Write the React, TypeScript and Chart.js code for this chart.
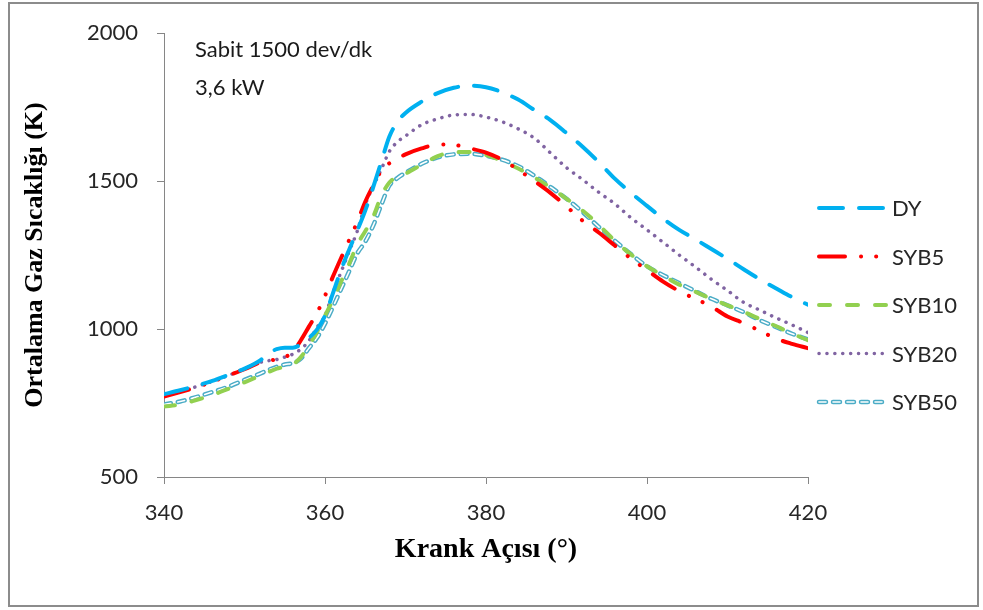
import React, { useEffect, useRef } from 'react';
import { Chart, registerables } from 'chart.js';

Chart.register(...registerables);

// Crank angle (degrees)
const angles = [340, 342, 344, 346, 348, 350, 352, 353, 354, 355, 356, 357, 358, 359, 360, 361, 362, 363, 364, 365, 366, 367, 368, 369, 370, 372, 374, 376, 378, 380, 382, 384, 386, 388, 390, 392, 394, 396, 398, 400, 402, 404, 406, 408, 410, 412, 414, 416, 418, 420];

// Mean gas temperature (K)
const dyValues = [780, 793, 808, 825, 845, 866, 895, 918, 932, 937, 937, 948, 970, 998, 1045, 1122, 1200, 1268, 1332, 1400, 1480, 1565, 1650, 1700, 1730, 1768, 1797, 1815, 1822, 1817, 1800, 1775, 1740, 1706, 1662, 1616, 1564, 1508, 1460, 1416, 1373, 1335, 1303, 1270, 1237, 1202, 1168, 1138, 1108, 1082];
const syb5Values = [772, 787, 803, 822, 843, 864, 888, 893, 897, 905, 922, 962, 1008, 1054, 1112, 1178, 1240, 1300, 1361, 1430, 1485, 1535, 1560, 1575, 1590, 1610, 1623, 1622, 1610, 1596, 1572, 1538, 1500, 1460, 1414, 1366, 1326, 1282, 1238, 1199, 1160, 1128, 1102, 1076, 1042, 1020, 994, 968, 950, 935];
const syb10Values = [738, 745, 760, 777, 798, 820, 843, 855, 866, 872, 880, 905, 945, 990, 1045, 1100, 1160, 1220, 1285, 1330, 1380, 1450, 1495, 1515, 1525, 1555, 1584, 1597, 1598, 1588, 1568, 1542, 1512, 1478, 1440, 1400, 1352, 1298, 1252, 1212, 1180, 1150, 1126, 1102, 1080, 1058, 1034, 1010, 985, 962];
const syb20Values = [780, 790, 805, 823, 843, 865, 888, 893, 897, 905, 915, 932, 960, 1005, 1045, 1125, 1193, 1262, 1330, 1420, 1483, 1540, 1600, 1632, 1652, 1690, 1710, 1723, 1725, 1716, 1700, 1676, 1645, 1595, 1545, 1505, 1462, 1423, 1376, 1335, 1293, 1250, 1210, 1168, 1130, 1090, 1064, 1038, 1014, 988];
const syb50Values = [745, 755, 770, 787, 805, 828, 850, 862, 872, 880, 885, 900, 935, 970, 1018, 1075, 1135, 1195, 1255, 1295, 1350, 1420, 1485, 1510, 1528, 1558, 1580, 1590, 1592, 1585, 1572, 1550, 1518, 1480, 1440, 1395, 1345, 1298, 1253, 1212, 1182, 1155, 1128, 1102, 1080, 1057, 1030, 1007, 984, 965];

const seriesLabels = ['DY', 'SYB5', 'SYB10', 'SYB20', 'SYB50'];
const xTicks = [340, 360, 380, 400, 420];
const yTicks = [500, 1000, 1500, 2000];
const noteLines = ['Sabit 1500 dev/dk', '3,6 kW'];
const xTitle = 'Krank Açısı (°)';
const yTitle = 'Ortalama Gaz Sıcaklığı (K)';

const TICK_FONT = 'Lato, "Open Sans", sans-serif';
const TITLE_FONT = '"Liberation Serif", "Times New Roman", serif';

const toPoints = (vals: number[]) => angles.map((a, i) => ({ x: a, y: vals[i] }));

const framePlugin = {
  id: 'frame',
  beforeDraw(chart: any) {
    const ctx = chart.ctx;
    ctx.save();
    ctx.fillStyle = '#ffffff';
    ctx.fillRect(0, 0, chart.width, chart.height);
    ctx.strokeStyle = '#8c8c8c';
    ctx.lineWidth = 2;
    ctx.strokeRect(9, 3, 969, 603);
    ctx.restore();
  },
};

const notePlugin = {
  id: 'note',
  afterDraw(chart: any) {
    const ctx = chart.ctx;
    ctx.save();
    ctx.fillStyle = '#1a1a1a';
    ctx.font = `22px ${TICK_FONT}`;
    ctx.textAlign = 'left';
    ctx.textBaseline = 'alphabetic';
    noteLines.forEach((t, i) => ctx.fillText(t, 195, 57 + i * 38));
    ctx.restore();
  },
};

const legendPlugin = {
  id: 'customLegend',
  afterDraw(chart: any) {
    const ctx = chart.ctx;
    const ds = chart.data.datasets;
    ctx.save();
    let row = 0;
    ds.forEach((d: any) => {
      if (d.overlay) return;
      const y = 208 + row * 48.5;
      const drawSample = (s: any) => {
        ctx.beginPath();
        ctx.strokeStyle = s.borderColor;
        ctx.lineWidth = s.borderWidth;
        ctx.lineCap = s.borderCapStyle || 'butt';
        ctx.setLineDash(s.borderDash || []);
        ctx.moveTo(819, y);
        ctx.lineTo(886, y);
        ctx.stroke();
      };
      drawSample(d);
      const ov = ds.find((o: any) => o.overlay && o.overlayOf === d.label);
      if (ov) drawSample(ov);
      ctx.setLineDash([]);
      ctx.fillStyle = '#262626';
      ctx.font = `22px ${TICK_FONT}`;
      ctx.textAlign = 'left';
      ctx.textBaseline = 'alphabetic';
      ctx.fillText(d.label, 892, y + 8);
      row++;
    });
    ctx.restore();
  },
};

export default function App() {
  const ref = useRef<HTMLCanvasElement>(null);

  useEffect(() => {
    if (!ref.current) return;
    const common = {
      pointRadius: 0,
      pointHoverRadius: 0,
      cubicInterpolationMode: 'monotone' as const,
      fill: false,
    };
    const chart = new Chart(ref.current, {
      type: 'line',
      data: {
        datasets: [
          { ...common, label: seriesLabels[0], data: toPoints(dyValues), borderColor: '#00B0F0', borderWidth: 4, borderDash: [24, 16], borderCapStyle: 'round', order: 1 },
          { ...common, label: seriesLabels[1], data: toPoints(syb5Values), borderColor: '#FF0000', borderWidth: 4, borderDash: [26, 16, 0.1, 15, 0.1, 16], borderCapStyle: 'round', order: 2 },
          { ...common, label: seriesLabels[2], data: toPoints(syb10Values), borderColor: '#92D050', borderWidth: 4, borderDash: [11, 17], borderCapStyle: 'round', order: 3 },
          { ...common, label: seriesLabels[3], data: toPoints(syb20Values), borderColor: '#8064A2', borderWidth: 3.5, borderDash: [0.1, 7.8], borderCapStyle: 'round', order: 4 },
          { ...common, label: seriesLabels[4], data: toPoints(syb50Values), borderColor: '#4BACC6', borderWidth: 4.5, borderDash: [7, 7], borderCapStyle: 'round', order: 6 },
          { ...common, label: seriesLabels[4] + ' inner', overlay: true, overlayOf: seriesLabels[4], data: toPoints(syb50Values), borderColor: '#ffffff', borderWidth: 1.6, borderDash: [7, 7], borderCapStyle: 'round', order: 5 } as any,
        ] as any,
      },
      options: {
        responsive: false,
        animation: false,
        events: [],
        layout: { padding: { top: 33, right: 175, left: 0, bottom: 0 } },
        plugins: {
          legend: { display: false },
          tooltip: { enabled: false },
          title: { display: false },
        },
        scales: {
          x: {
            type: 'linear',
            min: 340,
            max: 420,
            afterBuildTicks: (s: any) => { s.ticks = xTicks.map((v) => ({ value: v })); },
            afterFit: (s: any) => { s.height = 133; },
            grid: { display: true, drawOnChartArea: false, drawTicks: true, tickLength: 7, color: '#868686' },
            border: { display: true, color: '#868686', width: 1 },
            ticks: { padding: 16, color: '#262626', font: { family: TICK_FONT, size: 22 }, maxRotation: 0, callback: (v: any) => String(v) },
            title: { display: true, text: xTitle, color: '#000', font: { family: TITLE_FONT, size: 28, weight: 'bold' }, padding: { top: 0, bottom: 43 } },
          },
          y: {
            type: 'linear',
            min: 500,
            max: 2000,
            afterBuildTicks: (s: any) => { s.ticks = yTicks.map((v) => ({ value: v })); },
            afterFit: (s: any) => { s.width = 164; },
            grid: { display: true, drawOnChartArea: false, drawTicks: true, tickLength: 7, color: '#868686' },
            border: { display: true, color: '#868686', width: 1 },
            ticks: { padding: 19, color: '#262626', font: { family: TICK_FONT, size: 22 }, callback: (v: any) => String(v) },
            title: { display: true, text: yTitle, color: '#000', font: { family: TITLE_FONT, size: 26, weight: 'bold' }, padding: { top: 20, bottom: 0 } },
          },
        },
      } as any,
      plugins: [framePlugin, notePlugin, legendPlugin],
    });
    return () => chart.destroy();
  }, []);

  return (
    <div style={{ position: 'absolute', left: 0, top: 0, width: 983, height: 610, background: '#fff' }}>
      <canvas ref={ref} width={983} height={610} style={{ display: 'block' }} />
    </div>
  );
}
